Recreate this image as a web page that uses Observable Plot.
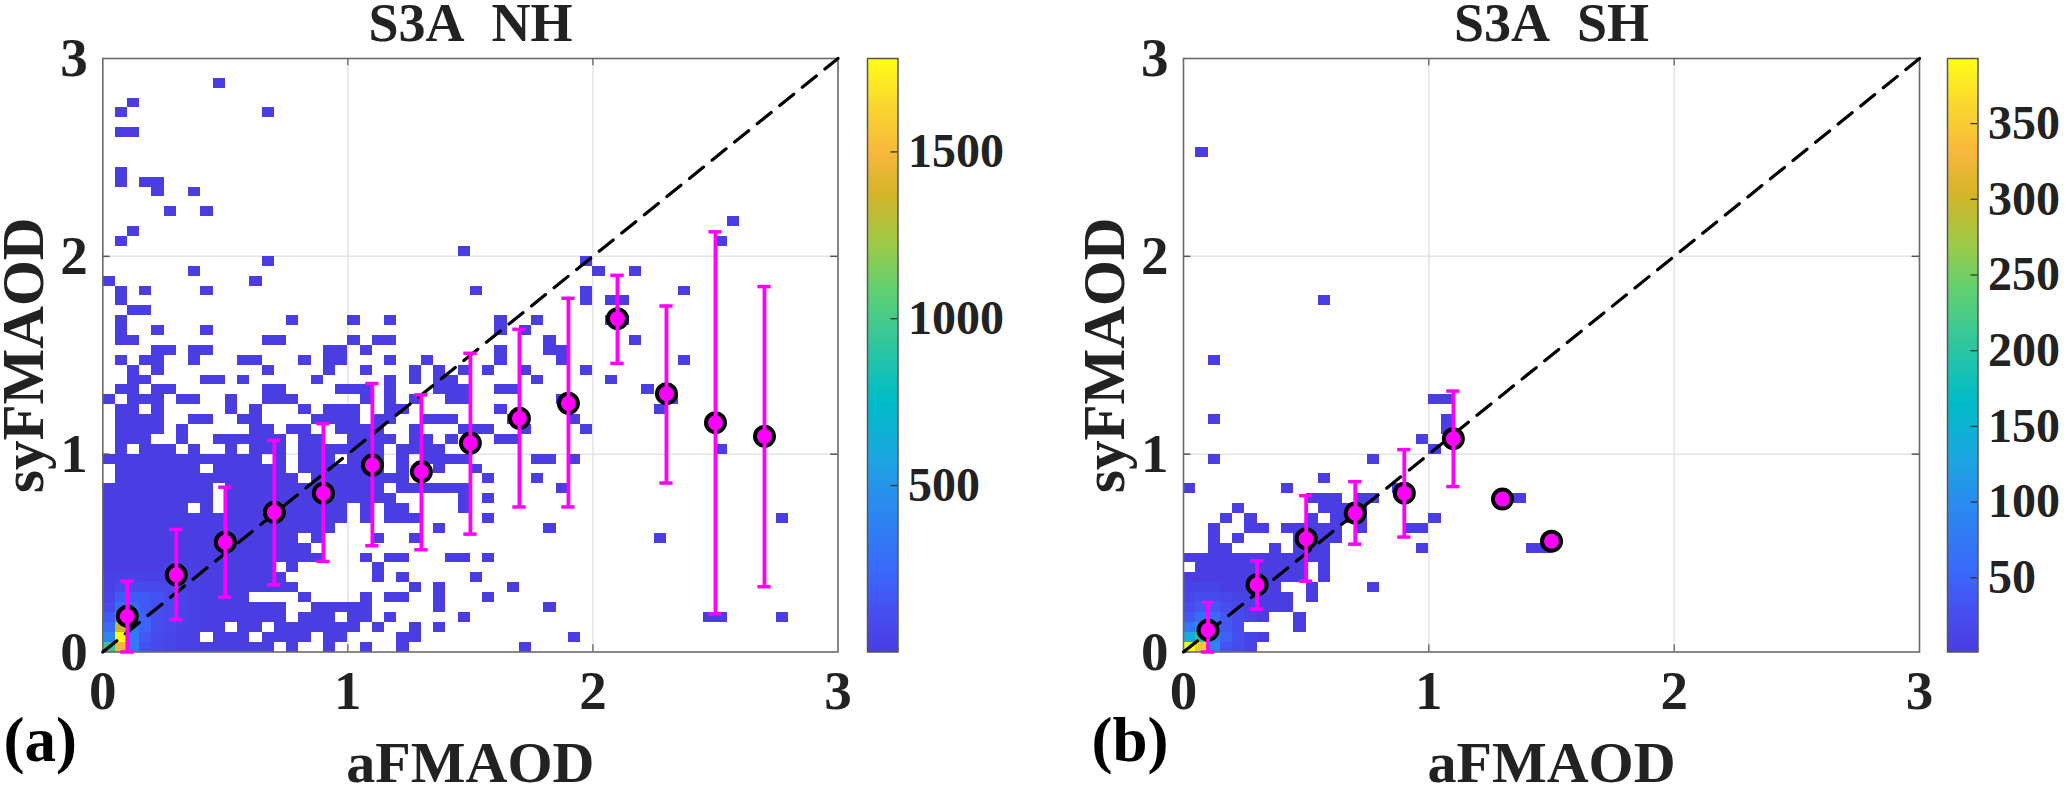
<!DOCTYPE html>
<html><head><meta charset="utf-8">
<script src="https://cdn.jsdelivr.net/npm/d3@7"></script>
<script src="https://cdn.jsdelivr.net/npm/@observablehq/plot@0.6"></script>
<style>html,body{margin:0;padding:0;background:#fff;width:2067px;height:785px;overflow:hidden}
#root{position:relative;width:2067px;height:785px}
#root>svg{position:absolute;top:0;overflow:visible}</style>
</head><body><div id="root"></div>
<script>
// bin size of the 2D histogram
const binSize = 0.05;
// occupied bins per row (row = y bin index); a number is one column, a pair is a run of columns
const nhRows = [
 [[0,13],15,18,21,24,34],
 [[0,7],[9,11],[13,16],18,19,24,25,38],
 [[0,9],11,12,[14,20],22,25,27],
 [[0,14],[16,18],20,21,23,29,49,50,55],
 [[0,14],[17,21],27,36],
 [[0,11],16,21,23,24,27,31],
 [[0,15],25,27,33],
 [[0,14],22,24,30],
 [[0,13],15,22],
 [[0,17],21,23,24,28,29,31],
 [[0,16]],
 [[0,15],17,22,25,45],
 [[0,18],27,36],
 [[0,19],21,[23,25],31,55],
 [[0,6],8,[10,19],21,23,24,29],
 [[0,8],[10,23],29,31],
 [[0,8],[10,22],[24,29],37],
 [[1,15],[17,24],31,35],
 [[1,7],[9,14],[16,22],24,27,30],
 [[0,12],14,[16,18],[20,22],24,[26,29],35,36,38],
 [1,[3,5],7,10,[12,14],[16,22],[24,27],50],
 [[1,3],6,[9,14],16,17,[20,23],25,26,28,32,33],
 [[1,4],6,12,13,15,16,[19,22],25,[29,31],34,39],
 [[1,4],7,8,11,12,[17,20],22,23,[26,28],33,38],
 [1,2,4,10,12,16,[18,20],23,24,32,45],
 [0,[2,4],6,7,10,[13,15],21,23,25,28,29,37,46],
 [1,2,4,5,13,14,[19,21],23,[27,29],32,33,44],
 [2,3,8,9,11,17,23,25,27,28,35,41],
 [2,4,13,18,21,25,27,29,31,34,39],
 [1,3,4,7,11,12,16,18,19,23,26,32,37,47],
 [4,5,7,8,18,19,21,32,36,37],
 [1,2,13,14,20,22,23,36,43],
 [1,4,8,32,34],
 [1,15,20,23,32,35,41,42],
 [2,3],
 [1,39,41,42],
 [1,3,8,30,39,47],
 [0,12],
 [7,40,43],
 [13,39],
 [29],
 [1,50],
 [2],
 [51],
 [5,8],
 [],
 [4,7],
 [1,3,4],
 [1],
 [],[],[],
 [1,2],
 [],
 [1,13],
 [2],
 [],
 [9]
];
const shRows = [
 [[0,5]],
 [[0,6]],
 [[0,4],9],
 [[0,6],9],
 [[0,8]],
 [[0,8],10],
 [[0,7],10,15],
 [[0,9],11],
 [[1,9],11],
 [[0,11]],
 [2,3,7,[9,11],19,28,29],
 [2,4,[9,12]],
 [2,5,6,[8,12],14,18,19],
 [3,5,10,[12,14],20],
 [4,[11,14]],
 [[10,12],14,15,26,27],
 [0,8,17],
 [11],
 [],
 [2,15],
 [20],
 [19],
 [21],
 [2,21],
 [],
 [20,21],
 [],[],[],
 [2],
 [],[],[],[],[],
 [11],
 [],[],[],[],[],[],[],[],[],[],[],[],[],[],
 [1]
];
// typical count of an occupied bin away from the origin
const nhBase = 3, shBase = 2;
// bin counts near the origin, one list per column, from the bottom row upward
const nhDense = [
 [950,420,260,170,90,60,40,30],
 [1480,1780,1350,500,270,170,70,40],
 [330,330,300,270,250,180,80,45],
 [120,170,210,200,170,170,80,40],
 [70,90,110,100,120,130,70,40],
 [45,60,70,70,80,80,70,40,30],
 [25,30,40,50,60,60,50,40,30],
 [20,20,25,25,30,30,30,25,20]
];
const shDense = [
 [392,135,70,35,22,15,10],
 [345,195,110,60,35,22,12],
 [90,70,60,55,35,20,12],
 [30,45,35,35,25,15],
 [20,25,22,20,18,12],
 [10,12,8,12,10,10]
];
// binned means with error bars
const nhX    = [0.1,0.3,0.5,0.7,0.9,1.1,1.3,1.5,1.7,1.9,2.1,2.3,2.5,2.7];
const nhMean = [0.181,0.39,0.555,0.706,0.803,0.945,0.911,1.056,1.181,1.257,1.685,1.306,1.159,1.09];
const nhHigh = [0.358,0.62,0.833,1.07,1.154,1.357,1.30,1.51,1.631,1.788,1.904,1.749,2.124,1.847];
const nhLow  = [0.0,0.164,0.277,0.34,0.458,0.537,0.517,0.596,0.733,0.733,1.459,0.854,0.193,0.33];
const shX    = [0.1,0.3,0.5,0.7,0.9,1.1,1.3,1.5];
const shMean = [0.11,0.34,0.573,0.702,0.803,1.078,0.773,0.56];
const shHigh = [0.25,0.461,0.79,0.861,1.023,1.319,0.773,0.56];
const shLow  = [0.0,0.217,0.358,0.545,0.581,0.836,0.773,0.56];
// colour bars
const nhMax = 1780, shMax = 393;
const nhBarTicks = [500,1000,1500];
const shBarTicks = [50,100,150,200,250,300,350];
const stopAt = [0,0.07,0.13,0.25,0.33,0.42,0.51,0.61,0.68,0.77,0.84,0.92,1];
const stopColor = ["#4a3de2","#4650f2","#3a68fb","#2a8cee","#1aa8de","#00bcc8","#2cc6a0","#62d070","#9bcb4a","#d4b428","#f8b83c","#f9d82e","#ffff14"];
const axisTicks = [0,1,2,3];
const innerTicks = [1,2];
const diagonal = [0,3];

const font = "'Liberation Serif','Times New Roman',serif";
const ink = "#222";
const frameTop = 58, frameBottom = 651.5, H = 785;

function expand(rows, dense, base){
  const out = [];
  rows.forEach((row,j)=>row.forEach(e=>{
    const [a,b] = Array.isArray(e) ? e : [e,e];
    for(let i=a;i<=b;i++){
      const c = dense[i] && dense[i][j] !== undefined ? dense[i][j] : base;
      out.push({i,j,c});
    }
  }));
  return out;
}
function colorScale(max){
  return {type:"linear",domain:stopAt.map(f=>1+f*(max-1)),range:stopColor,interpolate:"rgb",clamp:true};
}

function panel(o){
  const cells = expand(o.rows,o.dense,o.base);
  const pts = o.x.map((x,k)=>({x,m:o.mean[k],hi:o.high[k],lo:o.low[k]}));
  const capHalf = 0.027;
  const width = 950;
  const bars = pts.filter(d=>d.hi>d.lo);
  const svg = Plot.plot({
    width, height:H,
    marginLeft:o.left-o.svgLeft, marginRight:width-(o.right-o.svgLeft), marginTop:frameTop, marginBottom:H-frameBottom,
    style:{fontFamily:font,fontWeight:"bold",fontSize:"52px",color:ink,background:"transparent",overflow:"visible"},
    x:{domain:[0,3],label:null},
    y:{domain:[0,3],label:null},
    color:colorScale(o.max),
    marks:[
      Plot.ruleX(innerTicks,{stroke:"#e4e4e4",strokeWidth:1.5}),
      Plot.ruleY(innerTicks,{stroke:"#e4e4e4",strokeWidth:1.5}),
      Plot.rect(cells,{x1:d=>d.i*binSize,x2:d=>(d.i+1)*binSize,y1:d=>d.j*binSize,y2:d=>(d.j+1)*binSize,fill:"c",inset:0,shapeRendering:"crispEdges"}),
      Plot.ruleX(innerTicks,{y1:0,y2:0.037,stroke:"#555",strokeWidth:1.2}),
      Plot.ruleX(innerTicks,{y1:3,y2:2.963,stroke:"#555",strokeWidth:1.2}),
      Plot.ruleY(innerTicks,{x1:0,x2:0.03,stroke:"#555",strokeWidth:1.5}),
      Plot.ruleY(innerTicks,{x1:3,x2:2.97,stroke:"#555",strokeWidth:1.5}),
      Plot.frame({stroke:"#6a6a6a",strokeWidth:1.6}),
      Plot.line(diagonal.map(v=>({v})),{x:"v",y:"v",stroke:"#000",strokeWidth:3.2,strokeDasharray:"18 11"}),
      Plot.dot(pts,{x:"x",y:"m",r:9.5,fill:"#ff00ff",stroke:"#000",strokeWidth:4}),
      Plot.ruleX(bars,{x:"x",y1:"lo",y2:"hi",stroke:"#ff00ff",strokeWidth:3.8}),
      Plot.ruleY(bars,{y:"hi",x1:d=>d.x-capHalf,x2:d=>d.x+capHalf,stroke:"#ff00ff",strokeWidth:3.5}),
      Plot.ruleY(bars,{y:"lo",x1:d=>d.x-capHalf,x2:d=>d.x+capHalf,stroke:"#ff00ff",strokeWidth:3.5}),
      Plot.axisX({ticks:axisTicks,tickSize:0,tickPadding:18,fontSize:55,fontWeight:"bold",label:null,tickFormat:d=>String(d),fill:ink}),
      Plot.axisY({ticks:axisTicks,tickSize:0,tickPadding:15,fontSize:55,fontWeight:"bold",label:null,tickFormat:d=>String(d),fill:ink}),
      Plot.text([o.title],{frameAnchor:"top",dy:-56,fontSize:54,fontWeight:"bold",fill:ink}),
      Plot.text(["aFMAOD"],{frameAnchor:"bottom",dy:130,fontSize:58,fontWeight:"bold",fill:ink}),
      Plot.text(["syFMAOD"],{frameAnchor:"left",dx:-60,rotate:-90,textAnchor:"middle",lineAnchor:"bottom",fontSize:59,fontWeight:"bold",fill:ink}),
      Plot.text([o.tag],{frameAnchor:"bottom-left",dx:o.tagX-o.left,dy:109,textAnchor:"start",fontSize:63,fontWeight:"bold",fill:"#000"})
    ]
  });
  svg.style.left = o.svgLeft+"px";
  return svg;
}

function colorbar(o){
  const width = 160, barW = o.right-o.left;
  const levels = d3.range(0,240).map(k=>1+(k/240)*(o.max-1));
  const step = (o.max-1)/240;
  const svg = Plot.plot({
    width, height:H,
    marginLeft:1, marginRight:width-barW-1, marginTop:frameTop, marginBottom:H-frameBottom,
    style:{fontFamily:font,fontWeight:"bold",fontSize:"48px",color:ink,background:"transparent",overflow:"visible"},
    x:{domain:[0,1],axis:null},
    y:{domain:[1,o.max],label:null},
    color:colorScale(o.max),
    marks:[
      Plot.rect(levels,{x1:0,x2:1,y1:d=>d,y2:d=>d+step,fill:d=>d,shapeRendering:"crispEdges"}),
      Plot.ruleY(o.ticks,{x1:0.77,x2:1,stroke:"#333",strokeWidth:1.3}),
      Plot.frame({stroke:"#555",strokeWidth:1.5}),
      Plot.axisY({anchor:"right",ticks:o.ticks,tickSize:0,tickPadding:10,fontSize:48,fontWeight:"bold",label:null,tickFormat:d=>String(d),fill:ink})
    ]
  });
  svg.style.left = (o.left-1)+"px";
  return svg;
}

const root = document.getElementById("root");
root.append(panel({rows:nhRows,dense:nhDense,base:nhBase,x:nhX,mean:nhMean,high:nhHigh,low:nhLow,max:nhMax,
  left:102.3,right:837.5,svgLeft:0,title:"S3A\u00a0\u00a0NH",tag:"(a)",tagX:3}));
root.append(panel({rows:shRows,dense:shDense,base:shBase,x:shX,mean:shMean,high:shHigh,low:shLow,max:shMax,
  left:1183,right:1919,svgLeft:1000,title:"S3A\u00a0\u00a0SH",tag:"(b)",tagX:1091}));
root.append(colorbar({left:866.5,right:897,max:nhMax,ticks:nhBarTicks}));
root.append(colorbar({left:1947,right:1977.5,max:shMax,ticks:shBarTicks}));
</script></body></html>
